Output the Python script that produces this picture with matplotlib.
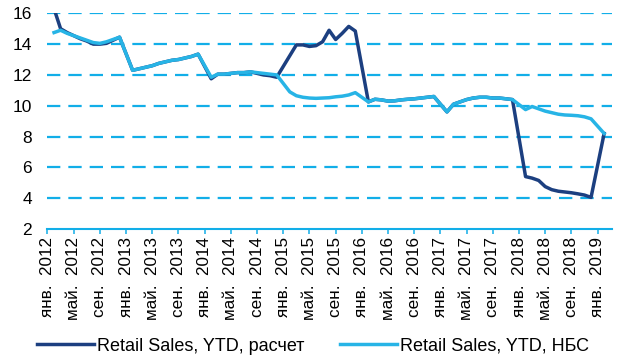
import matplotlib as mpl
mpl.rcParams['font.family'] = ['Liberation Sans', 'DejaVu Sans']
import matplotlib.pyplot as plt

# month index, 0 = янв. 2012 (no January points: Jan-Feb reported together)
months = (list(range(1, 12)) + list(range(13, 24)) + list(range(25, 36)) +
          list(range(37, 48)) + list(range(49, 60)) + list(range(61, 72)) +
          list(range(73, 84)) + [85])

nbs = [14.75, 14.9, 14.7, 14.55, 14.4, 14.25, 14.1, 14.05, 14.15, 14.3, 14.45,
       12.3, 12.4, 12.5, 12.6, 12.75, 12.85, 12.95, 13.0, 13.1, 13.2, 13.35,
       11.85, 12.05, 12.05, 12.1, 12.15, 12.15, 12.2, 12.15, 12.1, 12.05, 12.0,
       10.9, 10.65, 10.55, 10.5, 10.48, 10.5, 10.52, 10.58, 10.62, 10.7, 10.85,
       10.25, 10.42, 10.38, 10.3, 10.32, 10.38, 10.42, 10.45, 10.5, 10.55, 10.6,
       9.6, 10.1, 10.25, 10.4, 10.5, 10.55, 10.55, 10.5, 10.5, 10.45, 10.4,
       9.75, 9.95, 9.8, 9.65, 9.55, 9.45, 9.4, 9.38, 9.35, 9.28, 9.15,
       8.2]

calc = [16.3, 15.0, 14.75, 14.55, 14.35, 14.2, 14.0, 14.0, 14.05, 14.25, 14.45,
        12.3, 12.4, 12.5, 12.6, 12.75, 12.85, 12.95, 13.0, 13.1, 13.2, 13.35,
        11.75, 12.05, 12.05, 12.1, 12.15, 12.15, 12.2, 12.1, 12.0, 11.95, 11.85,
        13.25, 13.95, 13.95, 13.85, 13.9, 14.15, 14.9, 14.3, 14.7, 15.15, 14.85,
        10.25, 10.42, 10.38, 10.3, 10.32, 10.38, 10.42, 10.45, 10.5, 10.55, 10.6,
        9.6, 10.1, 10.25, 10.4, 10.5, 10.55, 10.55, 10.5, 10.5, 10.45, 10.4,
        5.4, 5.3, 5.15, 4.75, 4.55, 4.45, 4.4, 4.35, 4.28, 4.2, 4.05,
        8.2]

tick_pos = list(range(0, 85, 4))
tick_names = ['янв.', 'май.', 'сен.']
tick_labels = ['%s  %d' % (tick_names[i % 3], 2012 + i // 3) for i in range(len(tick_pos))]

dark = '#1c3f80'
light = '#27b4e6'
grid_c = '#12aee8'

fig = plt.figure(figsize=(6.2, 3.6), dpi=100)
ax = fig.add_axes([0.0766, 0.364, 0.9105, 0.599])

for v in range(4, 17, 2):
    ax.axhline(v, color=grid_c, lw=1.6, dashes=(6, 3.6), zorder=1)

ax.plot(months, calc, color=dark, lw=2.5, label='Retail Sales, YTD, расчет', zorder=3)
ax.plot(months, nbs, color=light, lw=2.5, label='Retail Sales, YTD, НБС', zorder=4)

ax.set_xlim(0, 86.2)
ax.set_ylim(2, 16)
ax.set_yticks(range(2, 17, 2))
ax.set_xticks(tick_pos)
ax.set_xticklabels(tick_labels, rotation=90, fontsize=12.3)
ax.tick_params(axis='y', length=0, pad=11, labelsize=12.5)
ax.tick_params(axis='x', length=3.6, width=1.1, color=grid_c, pad=2)

for s in ['top', 'right', 'left']:
    ax.spines[s].set_visible(False)
ax.spines['bottom'].set_color(grid_c)
ax.spines['bottom'].set_linewidth(1.5)

fig.legend(loc='lower center', bbox_to_anchor=(0.505, -0.03), ncol=2, frameon=False,
           fontsize=13, handlelength=3.15, columnspacing=2.0, handletextpad=0.15)

plt.savefig('out.png', dpi=100)
